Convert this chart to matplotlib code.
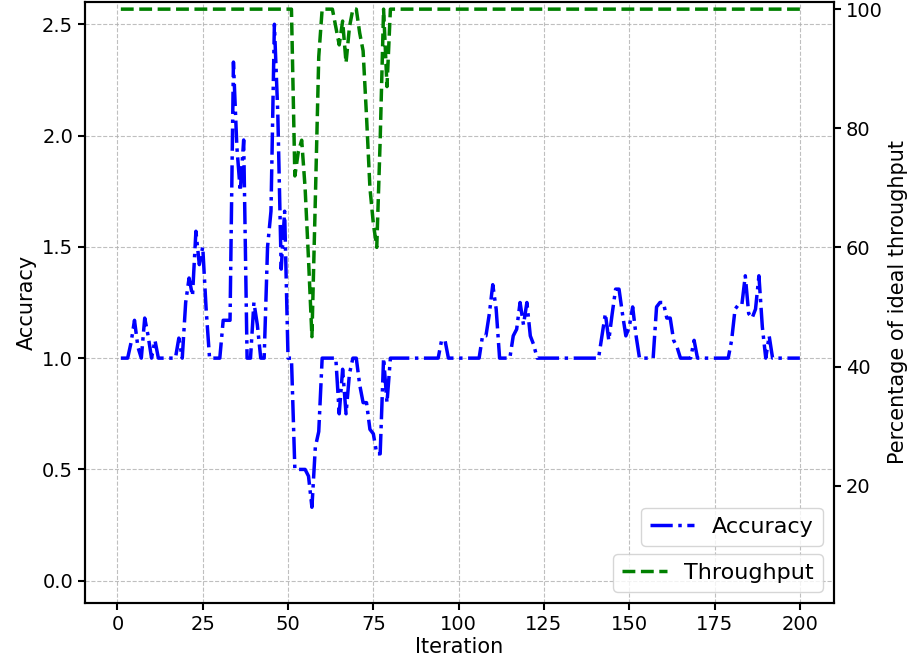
from matplotlib import pyplot as plt

# iteration index (1..200)
iterations = list(range(1, 201))

# accuracy, 10 values per row
accuracy = [
    1.0, 1.0, 1.0, 1.07, 1.17, 1.05, 1.0, 1.18, 1.1, 1.0,
    1.08, 1.0, 1.0, 1.0, 1.0, 1.0, 1.0, 1.09, 1.0, 1.25,
    1.36, 1.28, 1.57, 1.42, 1.5, 1.22, 1.0, 1.0, 1.0, 1.0,
    1.17, 1.17, 1.17, 2.33, 1.95, 1.75, 1.98, 1.0, 1.0, 1.25,
    1.15, 1.0, 1.0, 1.5, 1.66, 2.5, 2.1, 1.4, 1.66, 1.0,
    1.0, 0.5, 0.5, 0.5, 0.5, 0.47, 0.33, 0.6, 0.67, 1.0,
    1.0, 1.0, 1.0, 1.0, 0.75, 0.95, 0.75, 0.93, 1.0, 1.0,
    0.88, 0.8, 0.8, 0.68, 0.66, 0.57, 0.57, 1.0, 0.8, 1.0,
    1.0, 1.0, 1.0, 1.0, 1.0, 1.0, 1.0, 1.0, 1.0, 1.0,
    1.0, 1.0, 1.0, 1.0, 1.08, 1.08, 1.0, 1.0, 1.0, 1.0,
    1.0, 1.0, 1.0, 1.0, 1.0, 1.0, 1.1, 1.1, 1.2, 1.33,
    1.22, 1.0, 1.0, 1.0, 1.0, 1.1, 1.13, 1.25, 1.15, 1.25,
    1.1, 1.06, 1.0, 1.0, 1.0, 1.0, 1.0, 1.0, 1.0, 1.0,
    1.0, 1.0, 1.0, 1.0, 1.0, 1.0, 1.0, 1.0, 1.0, 1.0,
    1.0, 1.1, 1.2, 1.08, 1.2, 1.31, 1.31, 1.2, 1.1, 1.14,
    1.23, 1.1, 1.0, 1.0, 1.0, 1.0, 1.0, 1.23, 1.25, 1.25,
    1.18, 1.18, 1.08, 1.05, 1.0, 1.0, 1.0, 1.0, 1.08, 1.0,
    1.0, 1.0, 1.0, 1.0, 1.0, 1.0, 1.0, 1.0, 1.0, 1.08,
    1.22, 1.24, 1.24, 1.37, 1.2, 1.18, 1.22, 1.37, 1.14, 1.0,
    1.1, 1.0, 1.0, 1.0, 1.0, 1.0, 1.0, 1.0, 1.0, 1.0,
]

# throughput as percentage of ideal, 10 values per row
throughput = [
    100, 100, 100, 100, 100, 100, 100, 100, 100, 100,
    100, 100, 100, 100, 100, 100, 100, 100, 100, 100,
    100, 100, 100, 100, 100, 100, 100, 100, 100, 100,
    100, 100, 100, 100, 100, 100, 100, 100, 100, 100,
    100, 100, 100, 100, 100, 100, 100, 100, 100, 100,
    100, 72, 76, 78, 70, 58, 45, 68, 92, 100,
    100, 100, 100, 97, 94, 98, 91, 97, 100, 100,
    96, 93, 82, 70, 64, 60, 78, 100, 87, 100,
    100, 100, 100, 100, 100, 100, 100, 100, 100, 100,
    100, 100, 100, 100, 100, 100, 100, 100, 100, 100,
    100, 100, 100, 100, 100, 100, 100, 100, 100, 100,
    100, 100, 100, 100, 100, 100, 100, 100, 100, 100,
    100, 100, 100, 100, 100, 100, 100, 100, 100, 100,
    100, 100, 100, 100, 100, 100, 100, 100, 100, 100,
    100, 100, 100, 100, 100, 100, 100, 100, 100, 100,
    100, 100, 100, 100, 100, 100, 100, 100, 100, 100,
    100, 100, 100, 100, 100, 100, 100, 100, 100, 100,
    100, 100, 100, 100, 100, 100, 100, 100, 100, 100,
    100, 100, 100, 100, 100, 100, 100, 100, 100, 100,
    100, 100, 100, 100, 100, 100, 100, 100, 100, 100,
]

fig, ax = plt.subplots(figsize=(9.19, 6.67), dpi=100)
fig.subplots_adjust(left=0.0925, right=0.9075, top=0.997, bottom=0.096)

ax.plot(iterations, accuracy, color='blue', linestyle='-.', linewidth=2.5, label='Accuracy')
ax.set_xlabel('Iteration', fontsize=15, labelpad=2)
ax.set_ylabel('Accuracy', fontsize=15)
ax.set_ylim(-0.1, 2.6)
ax.set_xlim(-9.5, 210)
ax.tick_params(labelsize=14, width=1.5, length=5)
ax.grid(True, linestyle='--', color='#b0b0b0', alpha=0.8)

ax2 = ax.twinx()
ax2.plot(iterations, throughput, color='green', linestyle='--', linewidth=2.5, label='Throughput')
ax2.set_ylabel('Percentage of ideal throughput', fontsize=15)
ax2.set_ylim(0.3, 101.2)
ax2.set_yticks([20, 40, 60, 80, 100])
ax2.tick_params(labelsize=14, width=1.5, length=5)

for a in (ax, ax2):
    for s in a.spines.values():
        s.set_linewidth(1.5)

ax.legend(loc='lower right', bbox_to_anchor=(1, 0.077), fontsize=16)
ax2.legend(loc='lower right', fontsize=16)

plt.savefig('out.png')
plt.close()
